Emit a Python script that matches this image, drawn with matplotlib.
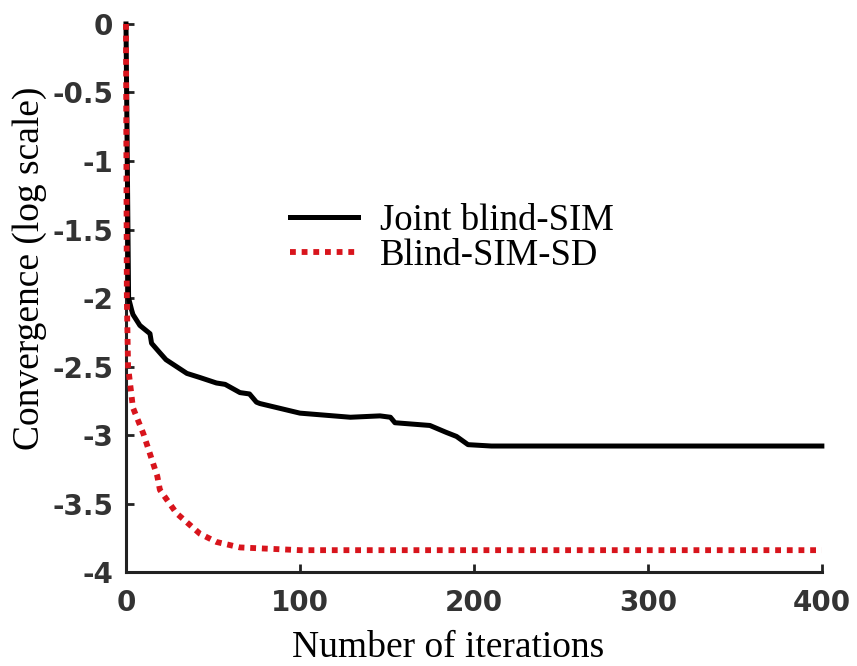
import matplotlib.pyplot as plt

# Joint blind-SIM convergence
joint_x = [0, 1.5, 3.3, 4, 8, 13.8, 14.7, 19.5, 23, 35, 42.5, 52, 57, 65.5, 71, 75, 77,
           100, 129, 146, 152, 154.6, 174.7, 184, 190, 196.6, 210, 300, 400]
joint_y = [0, -2.0, -2.09, -2.12, -2.2, -2.26, -2.33, -2.4, -2.45, -2.55, -2.58, -2.62,
           -2.63, -2.69, -2.70, -2.76, -2.77, -2.84, -2.87, -2.86, -2.87, -2.91, -2.93,
           -2.98, -3.01, -3.07, -3.08, -3.08, -3.08]

# Blind-SIM-SD convergence
sd_x = [0, 0.5, 1.2, 4, 10, 18, 19.5, 29, 42.5, 52, 65.5, 100, 200, 300, 400]
sd_y = [0, -2.0, -2.5, -2.8, -2.99, -3.3, -3.40, -3.57, -3.72, -3.78, -3.82, -3.84,
        -3.84, -3.84, -3.84]

xticks = [0, 100, 200, 300, 400]
yticks = [0, -0.5, -1, -1.5, -2, -2.5, -3, -3.5, -4]
ytick_labels = ["0", "-0.5", "-1", "-1.5", "-2", "-2.5", "-3", "-3.5", "-4"]

fig = plt.figure(figsize=(8.57, 6.66), dpi=100)
ax = fig.add_axes([0.147, 0.141, 0.812, 0.823])

ax.plot(joint_x, joint_y, color="black", linewidth=3.6, label="Joint blind-SIM",
        clip_on=False, zorder=3)
ax.plot(sd_x, sd_y, color="#d8141c", linewidth=4.2, linestyle=(0, (1, 1)),
        label="Blind-SIM-SD", clip_on=False, zorder=4)

ax.set_xlim(0, 400)
ax.set_ylim(-4, 0)
ax.set_xticks(xticks)
ax.set_yticks(yticks)
ax.set_yticklabels(ytick_labels)

for s in ["top", "right"]:
    ax.spines[s].set_visible(False)
for s in ["left", "bottom"]:
    ax.spines[s].set_linewidth(2.2)
    ax.spines[s].set_color("#222222")

ax.tick_params(direction="in", length=6, width=2, colors="#222222")
ax.tick_params(axis="x", pad=12)
ax.tick_params(axis="y", pad=9)
for lab in ax.get_xticklabels() + ax.get_yticklabels():
    lab.set_fontfamily("DejaVu Sans")
    lab.set_fontweight("bold")
    lab.set_fontsize(20)
    lab.set_color("#333333")

ax.set_xlabel("Number of iterations", fontfamily="Liberation Serif", fontsize=27, labelpad=10)
ax.set_ylabel("Convergence (log scale)", fontfamily="Liberation Serif", fontsize=27, labelpad=4)
ax.xaxis.label.set_x(0.463)
ax.yaxis.label.set_y(0.555)

leg = ax.legend(loc="center left", bbox_to_anchor=(0.188, 0.609), frameon=False,
                prop={"family": "Liberation Serif", "size": 26.5}, handlelength=1.85,
                handletextpad=0.6, labelspacing=0.0)

fig.savefig("out.png", dpi=100)
